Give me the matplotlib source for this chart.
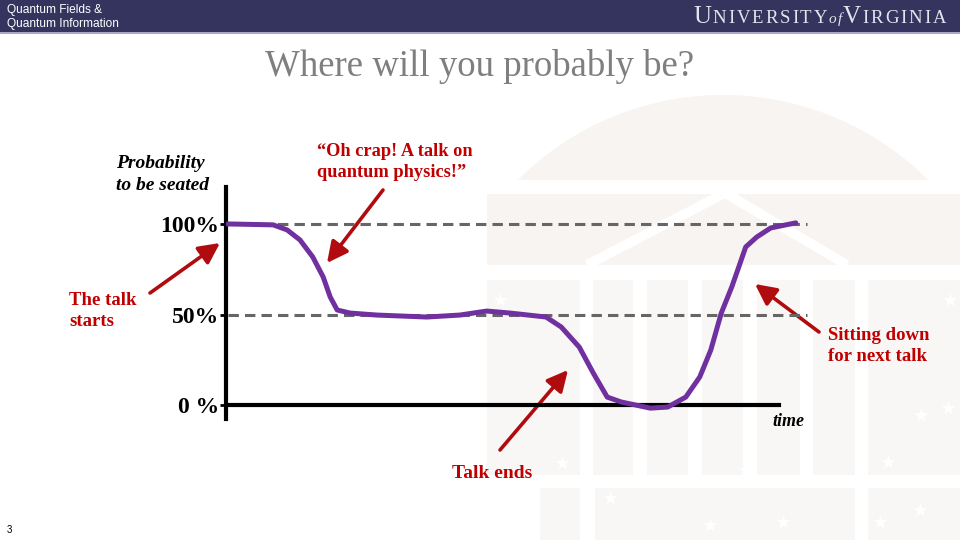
import numpy as np
import matplotlib
matplotlib.use("Agg")
import matplotlib.pyplot as plt
from matplotlib.patches import Rectangle, Polygon

# datos (tiempo en unidades arbitrarias, probabilidad en %)
time_pts = [0.3, 8.1, 10.5, 12.7, 14.9, 16.7, 17.9, 19.1, 21.3, 25.9, 34.5, 40.2,
            44.8, 48.8, 55.0, 57.6, 60.7, 63.1, 65.5, 67.9, 72.9, 75.9, 79.0,
            81.4, 83.3, 85.1, 86.9, 88.1, 89.3, 91.2, 93.6, 97.9]
prob_pts = [100.0, 99.5, 96.7, 91.2, 81.8, 70.7, 59.7, 52.5, 50.8, 49.7, 48.6, 49.7,
            51.9, 50.8, 48.6, 43.1, 32.0, 17.7, 4.4, 1.7, -1.7, -1.1, 4.4,
            15.5, 30.4, 50.8, 65.2, 76.2, 87.3, 92.8, 97.8, 100.6]
ref_levels = [100, 50]
ytick_vals = [100, 50, 0]
ytick_labels = ['100%', '50%', '0 %']

RED = '#C00000'
ARROW = '#B00C10'
PURPLE = '#7030A0'
NAVY = '#34345F'
BEIGE = '#F7F4F1'
BEIGE2 = '#F9F7F5'

fig = plt.figure(figsize=(9.6, 5.4), dpi=100)
fig.patch.set_facecolor('white')

""" FONDO (cabecera y marca de agua) """
bg = fig.add_axes([0, 0, 1, 1], zorder=0)
bg.set_xlim(0, 960)
bg.set_ylim(540, 0)
bg.axis('off')

# cupula
th = np.linspace(np.pi / 4, 3 * np.pi / 4, 100)
dome = np.column_stack([723 + 290 * np.cos(th), 385 - 290 * np.sin(th)])
bg.add_patch(Polygon(dome, closed=True, fc=BEIGE, ec='none'))
# edificio
bg.add_patch(Rectangle((487, 194), 473, 281, fc=BEIGE2, ec='none'))
bg.add_patch(Rectangle((487, 194), 473, 71, fc=BEIGE, ec='none'))
bg.add_patch(Rectangle((540, 488), 420, 52, fc=BEIGE2, ec='none'))
for x0, w in [(580, 13), (633, 14), (688, 14), (743, 14), (800, 13), (855, 13)]:
    bg.add_patch(Rectangle((x0, 280), w, 195, fc='white', ec='none'))
for x0, w in [(580, 15), (855, 13)]:
    bg.add_patch(Rectangle((x0, 488), w, 52, fc='white', ec='none'))
bg.add_patch(Rectangle((487, 265), 473, 15, fc='white', ec='none'))
bg.plot([587, 725, 847], [265, 193, 265], color='white', lw=7, solid_capstyle='butt')
stars_x = [950, 948, 921, 888, 880, 783, 745, 610, 562, 500, 920, 710]
stars_y = [300, 408, 415, 462, 522, 522, 470, 498, 463, 300, 510, 525]
bg.scatter(stars_x, stars_y, marker='*', s=110, c='white', linewidths=0)

# cabecera
bg.add_patch(Rectangle((0, 0), 960, 32, fc=NAVY, ec='none'))
bg.add_patch(Rectangle((0, 32), 960, 2, fc='#A8A8C8', ec='none'))
bg.text(7, 9.5, 'Quantum Fields &', color='white', fontsize=8.6,
        family='Liberation Sans', va='center', ha='left')
bg.text(7, 23.5, 'Quantum Information', color='white', fontsize=8.6,
        family='Liberation Sans', va='center', ha='left')

# logo UVA letra por letra
fig.canvas.draw()
rend = fig.canvas.get_renderer()
pieces = [('U', 18, 'normal', 1.8), ('NIVERSITY', 13.5, 'normal', 1.9),
          ('of', 11, 'italic', 1.0), ('V', 18, 'normal', 1.8),
          ('IRGINIA', 13.5, 'normal', 1.9)]
xpos = 693
for txt, fs, st, gap in pieces:
    for ch in txt:
        t = bg.text(xpos, 23, ch, color='#E4E4EC', fontsize=fs,
                    family='Liberation Serif', style=st, va='baseline', ha='left')
        xpos += t.get_window_extent(rend).width + gap

# titulo
bg.text(480, 66, 'Where will you probably be?', color='#7F7F7F', fontsize=26.5,
        family='Liberation Serif', ha='center', va='center')

""" GRAFICO """
ax = fig.add_axes([226 / 960, (540 - 419) / 540, 582 / 960, 232 / 540], zorder=2)
ax.set_facecolor('none')
ax.set_xlim(0, 100)
ax.set_ylim(-7.7, 120.4)

for lvl in ref_levels:
    ax.axhline(lvl, xmin=0.003, xmax=0.998, color='#666666', lw=2.2,
               dashes=(3.4, 2.0), zorder=1)
ax.axhline(0, xmin=0, xmax=0.95, color='black', lw=3, zorder=2)
ax.plot(time_pts, prob_pts, color=PURPLE, lw=3.6, solid_joinstyle='round',
        solid_capstyle='round', zorder=3)

for s in ['top', 'right', 'bottom']:
    ax.spines[s].set_visible(False)
ax.spines['left'].set_linewidth(3)
ax.set_xticks([])
ax.set_yticks(ytick_vals)
ax.set_yticklabels(ytick_labels, family='Liberation Serif', fontweight='bold',
                   fontsize=17)
ax.tick_params(axis='y', length=4, width=2, pad=1)

""" TEXTOS Y FLECHAS """
bg.text(116, 164, 'Probability', family='Liberation Serif', style='italic',
        fontweight='bold', fontsize=14, va='center', ha='left')
bg.text(116, 185, 'to be seated', family='Liberation Serif', style='italic',
        fontweight='bold', fontsize=14, va='center', ha='left')
bg.text(317, 162, '\u201cOh crap! A talk on\nquantum physics!\u201d', family='Liberation Serif',
        fontweight='bold', fontsize=13.2, color=RED, va='center', ha='left',
        linespacing=1.3)
bg.text(69, 311, 'The talk\nstarts', family='Liberation Serif', fontweight='bold',
        fontsize=13.5, color=RED, va='center', ha='left', linespacing=1.3)
bg.text(828, 346, 'Sitting down\nfor next talk', family='Liberation Serif',
        fontweight='bold', fontsize=13.5, color=RED, va='center', ha='left',
        linespacing=1.3)
bg.text(492, 474, 'Talk ends', family='Liberation Serif', fontweight='bold',
        fontsize=14, color=RED, va='center', ha='center')
bg.text(788, 422, 'time', family='Liberation Serif', style='italic',
        fontweight='bold', fontsize=13, va='center', ha='center')
bg.text(7, 530, '3', family='Liberation Sans', fontsize=7, va='center', ha='left')

arrows = [((150, 293), (220, 243)), ((383, 190), (327, 263)),
          ((500, 450), (568, 370)), ((819, 332), (755, 284))]
for tail, head in arrows:
    bg.annotate('', xy=head, xytext=tail,
                arrowprops=dict(arrowstyle='-|>,head_length=0.9,head_width=0.45',
                                color=ARROW, lw=2.6, mutation_scale=14,
                                shrinkA=0, shrinkB=0))

fig.savefig('out.png', dpi=100)
